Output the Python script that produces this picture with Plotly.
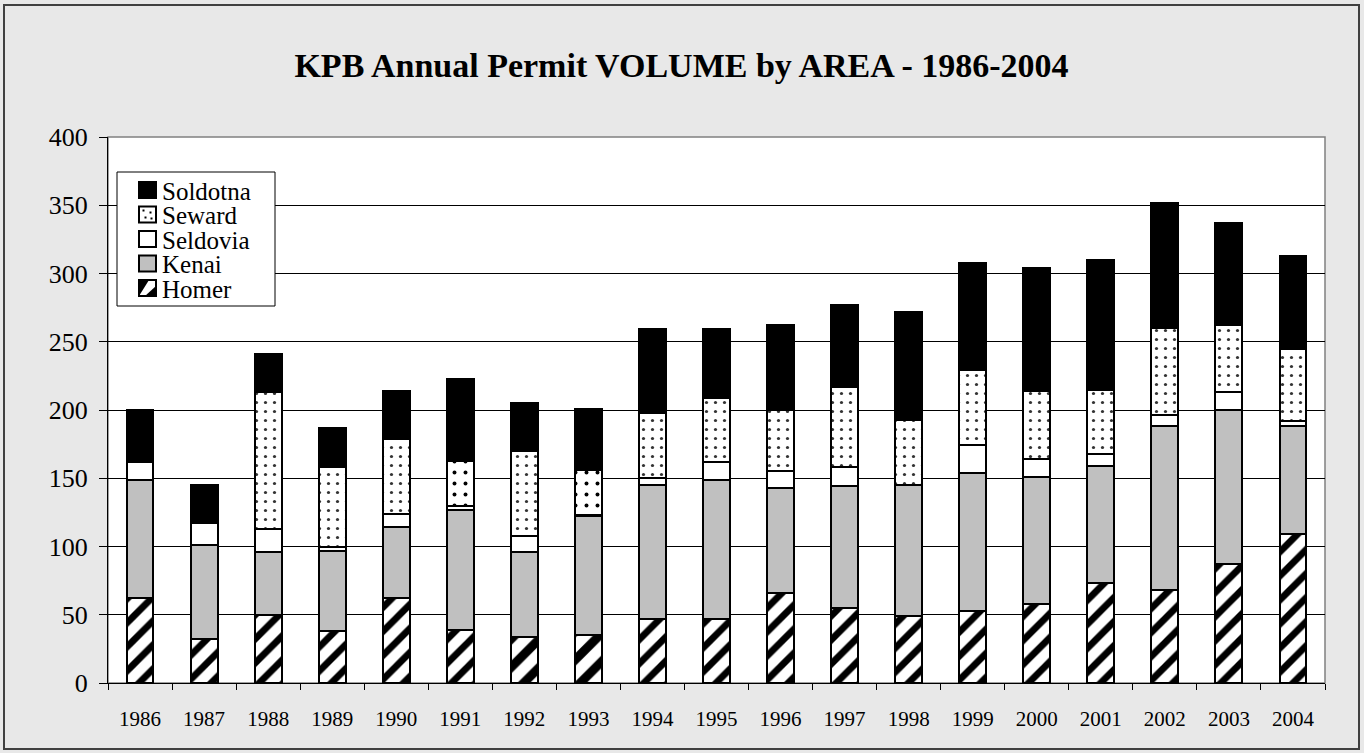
import plotly.graph_objects as go

years = ["1986", "1987", "1988", "1989", "1990", "1991", "1992", "1993", "1994", "1995",
         "1996", "1997", "1998", "1999", "2000", "2001", "2002", "2003", "2004"]
homer = [62, 32, 50, 38, 62, 39, 34, 35, 47, 47, 66, 55, 49, 53, 58, 73, 68, 87, 109]
kenai = [87, 69, 46, 59, 52, 88, 62, 87, 98, 102, 77, 89, 96, 101, 93, 86, 120, 113, 79]
seldovia = [13, 16, 17, 3, 10, 3, 12, 1, 5, 13, 12, 14, 0, 20, 13, 9, 8, 13, 4]
seward = [0, 0, 100, 58, 55, 33, 62, 33, 48, 47, 45, 59, 48, 55, 50, 47, 64, 49, 53]
soldotna = [38, 28, 28, 29, 35, 60, 35, 45, 61, 50, 62, 60, 79, 79, 90, 95, 92, 75, 68]

legend_names = ["Soldotna", "Seward", "Seldovia", "Kenai", "Homer"]
title_text = "KPB Annual Permit VOLUME by AREA - 1986-2004"

FONT = "Liberation Serif"
W, H = 1364, 753
L, R, T, B = 108, 39, 137, 70
PW, PH = W - L - R, H - T - B

def px(x):
    return (x - L) / PW

def py(y):
    return (H - B - y) / PH

fig = go.Figure()
line = dict(color="black", width=2)
homer_sizes = [20 if y in ("1992", "1993") else 17 for y in years]
homer_sol = [0.45 if y in ("1992", "1993") else 0.4 for y in years]
seward_sizes = [11 if y in ("1991", "1993") else 9 for y in years]
seward_sol = [0.1 if y in ("1991", "1993") else 0.1 for y in years]
seward_fg = ["black" if y in ("1991", "1993") else "#333333" for y in years]

fig.add_trace(go.Bar(x=years, y=homer, name="Homer", width=0.42,
                     marker=dict(color="white", line=line,
                                 pattern=dict(shape="/", fgcolor="black", bgcolor="white",
                                              fgopacity=1, size=homer_sizes,
                                              solidity=homer_sol))))
fig.add_trace(go.Bar(x=years, y=kenai, name="Kenai", width=0.42,
                     marker=dict(color="#c0c0c0", line=line)))
fig.add_trace(go.Bar(x=years, y=seldovia, name="Seldovia", width=0.42,
                     marker=dict(color="white", line=line)))
fig.add_trace(go.Bar(x=years, y=seward, name="Seward", width=0.42,
                     marker=dict(color="white", line=line,
                                 pattern=dict(shape=".", fgcolor=seward_fg, bgcolor="white",
                                              fgopacity=1, size=seward_sizes,
                                              solidity=seward_sol))))
fig.add_trace(go.Bar(x=years, y=soldotna, name="Soldotna", width=0.42,
                     marker=dict(color="black", line=line)))

shapes = []
annotations = []
# outer border of chart area
shapes.append(dict(type="rect", xref="paper", yref="paper",
                   x0=px(4), x1=px(1359), y0=py(749), y1=py(5),
                   line=dict(color="#404040", width=2), layer="below"))
# plot area border (gray)
shapes.append(dict(type="rect", xref="paper", yref="paper", x0=0, x1=1, y0=0, y1=1,
                   line=dict(color="#808080", width=1.5), layer="below"))

# manual legend
shapes.append(dict(type="rect", xref="paper", yref="paper",
                   x0=px(117), x1=px(275), y0=py(306), y1=py(172),
                   line=dict(color="black", width=1), fillcolor="white", layer="above"))
row_y = [190, 214.5, 239, 263.5, 288]
sw_x0, sw_x1, half = 139, 156, 8
fills = ["black", "white", "white", "#c0c0c0", "white"]
for name, cy, fc in zip(legend_names, row_y, fills):
    shapes.append(dict(type="rect", xref="paper", yref="paper",
                       x0=px(sw_x0), x1=px(sw_x1), y0=py(cy + half), y1=py(cy - half),
                       line=dict(color="black", width=2), fillcolor=fc, layer="above"))
    annotations.append(dict(xref="paper", yref="paper", x=px(160), y=py(cy + 1),
                            text=name, showarrow=False, xanchor="left", yanchor="middle",
                            font=dict(family=FONT, size=25, color="black")))
# Seward swatch dots
cy = row_y[1]
for dx, dy in [(-4, -4), (3, -2), (-2, 3), (4, 4)]:
    shapes.append(dict(type="rect", xref="paper", yref="paper",
                       x0=px(147.5 + dx - 1), x1=px(147.5 + dx + 1),
                       y0=py(cy + dy + 1), y1=py(cy + dy - 1),
                       line=dict(width=0), fillcolor="black", layer="above"))
# Homer swatch diagonal
cy = row_y[4]
x0, x1, y0, y1 = sw_x0, sw_x1, cy + half, cy - half
shapes.append(dict(type="path", xref="paper", yref="paper",
                   path="M {},{} L {},{} L {},{} Z".format(
                       px(x0), py(y0), px(x0), py(y1), px(x1 - 7), py(y1)),
                   line=dict(width=0), fillcolor="black", layer="above"))
shapes.append(dict(type="path", xref="paper", yref="paper",
                   path="M {},{} L {},{} L {},{} Z".format(
                       px(x0 + 6), py(y0), px(x1), py(y0), px(x1), py(y1 + 6)),
                   line=dict(width=0), fillcolor="black", layer="above"))
shapes.append(dict(type="rect", xref="paper", yref="paper",
                   x0=px(x0), x1=px(x1), y0=py(y0), y1=py(y1),
                   line=dict(color="black", width=2), layer="above"))

fig.update_layout(
    barmode="stack",
    width=W, height=H,
    margin=dict(l=L, r=R, t=T, b=B, autoexpand=False),
    paper_bgcolor="#e8e8e8",
    plot_bgcolor="white",
    showlegend=False,
    title=dict(text="<b>" + title_text + "</b>", x=(293 + 1070) / 2 / W, xanchor="center",
               y=1 - 65 / H, yanchor="middle", yref="container",
               font=dict(family=FONT, size=34, color="black")),
    xaxis=dict(type="category", tickson="boundaries", ticks="outside", ticklen=6,
               tickcolor="black", showline=True, linecolor="black", linewidth=1,
               showgrid=False, tickfont=dict(family=FONT, size=21, color="black"),
               ticklabelstandoff=17),
    yaxis=dict(range=[0, 400], dtick=50, ticks="outside", ticklen=8, tickcolor="black",
               showline=True, linecolor="black", linewidth=1, showgrid=True,
               gridcolor="black", gridwidth=1, zeroline=False,
               tickfont=dict(family=FONT, size=26, color="black"), ticklabelstandoff=6),
    shapes=shapes,
    annotations=annotations,
)

fig.write_html("out.html", config={"displayModeBar": False},
               post_script="document.body.style.margin='0px';document.body.style.overflow='hidden';")
